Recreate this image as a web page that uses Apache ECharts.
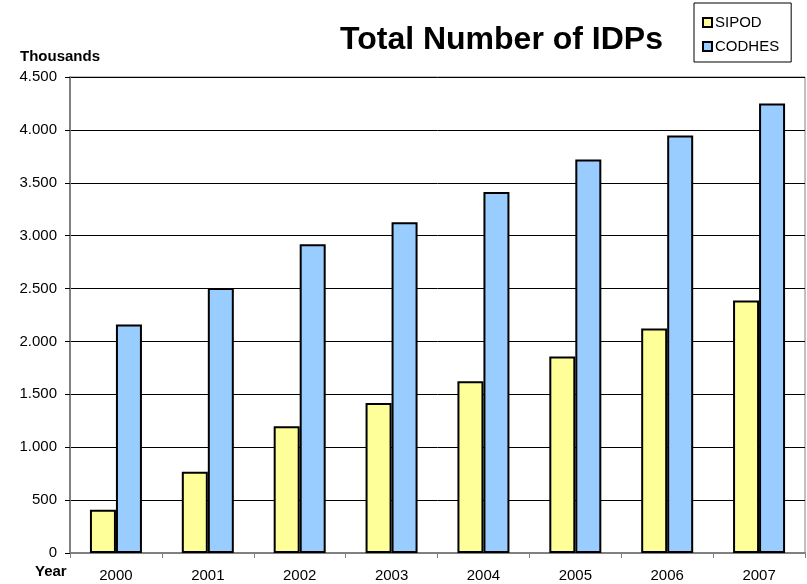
<!DOCTYPE html>
<html lang="en">
<head>
    <meta charset="UTF-8">
    <title>Total Number of IDPs</title>
    <script src="https://cdn.jsdelivr.net/npm/echarts@6/dist/echarts.min.js"></script>
</head>
<body style="margin:0">
    <div id="main" style="width: 807px;height:584px;"></div>
    <script type="text/javascript">
        // data (thousands)
        var years = ['2000', '2001', '2002', '2003', '2004', '2005', '2006', '2007'];
        var sipod = [408, 768, 1198, 1418, 1623, 1858, 2123, 2388];
        var codhes = [2160, 2505, 2920, 3127, 3412, 3720, 3947, 4250];

        function fmt(v) {
            // 4500 -> 4.500
            return String(v).replace(/\B(?=(\d{3})+(?!\d))/g, '.');
        }

        var myChart = echarts.init(document.getElementById('main'));
        var font = 'Liberation Sans, Arial, sans-serif';

        var option = {
            backgroundColor: '#fff',
            animation: false,
            title: {
                text: 'Total Number of IDPs',
                left: 335,
                top: 19,
                textStyle: { fontFamily: font, fontSize: 32, fontWeight: 'bold', color: '#000' }
            },
            legend: {
                orient: 'vertical',
                left: 694,
                top: 3,
                padding: [12, 12, 8, 8],
                itemGap: 9,
                itemWidth: 9,
                itemHeight: 9,
                icon: 'rect',
                borderColor: '#000',
                borderWidth: 1,
                itemStyle: { borderColor: '#000', borderWidth: 2 },
                textStyle: { fontFamily: font, fontSize: 15, color: '#000', padding: [0, 0, 0, -2] },
                data: ['SIPOD', 'CODHES']
            },
            graphic: [
                { type: 'text', left: 20, top: 49, style: { text: 'Thousands', font: 'bold 15px ' + font, fill: '#000' } },
                { type: 'text', left: 35, top: 564, style: { text: 'Year', font: 'bold 15px ' + font, fill: '#000' } }
            ],
            grid: { left: 70, right: 2, top: 77, bottom: 31, show: true, borderColor: '#808080', borderWidth: 1 },
            xAxis: {
                type: 'category',
                data: years,
                axisLine: { lineStyle: { color: '#808080', width: 2 } },
                axisTick: { show: true, length: 5, lineStyle: { color: '#808080', width: 1 } },
                axisLabel: { fontFamily: font, fontSize: 15, color: '#000', margin: 15 }
            },
            yAxis: {
                type: 'value',
                min: 0,
                max: 4500,
                interval: 500,
                axisLine: { show: true, lineStyle: { color: '#808080', width: 2 } },
                axisTick: { show: true, length: 5, lineStyle: { color: '#000', width: 1 } },
                axisLabel: { fontFamily: font, fontSize: 15, color: '#000', margin: 13, formatter: fmt },
                splitLine: { lineStyle: { color: '#000', width: 1 } }
            },
            series: [{
                name: 'SIPOD',
                type: 'bar',
                data: sipod,
                barWidth: 26,
                barGap: '0%',
                itemStyle: { color: '#FFFF99', borderColor: '#000', borderWidth: 2 }
            }, {
                name: 'CODHES',
                type: 'bar',
                data: codhes,
                barWidth: 26,
                itemStyle: { color: '#99CCFF', borderColor: '#000', borderWidth: 2 }
            }]
        };
        myChart.setOption(option);
    </script>
</body>
</html>
